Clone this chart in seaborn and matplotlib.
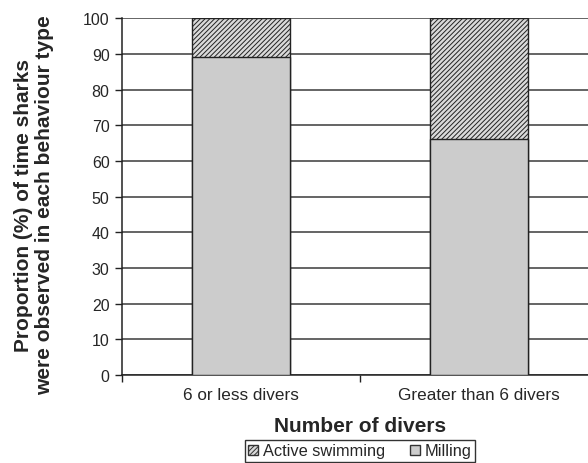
import matplotlib
matplotlib.use("Agg")
import matplotlib.pyplot as plt
import seaborn as sns
import pandas as pd
from matplotlib.patches import Patch

categories = ["6 or less divers", "Greater than 6 divers"]
milling = [89, 66]
active_swimming = [11, 34]
y_ticks = [0, 10, 20, 30, 40, 50, 60, 70, 80, 90, 100]

sns.set_theme(style="white")
plt.rcParams['font.family'] = ['Liberation Sans', 'DejaVu Sans']
plt.rcParams['hatch.color'] = '#858585'
plt.rcParams['hatch.linewidth'] = 0.7

df = pd.DataFrame({
    "cat": categories,
    "milling": milling,
    "total": [m + a for m, a in zip(milling, active_swimming)],
})

fig = plt.figure(figsize=(5.88, 4.64), dpi=100)
ax = fig.add_axes([0.2075, 0.1897, 0.810, 0.769])

for y in y_ticks:
    ax.axhline(y, color='#3a3a3a', lw=1.1, zorder=0)

sns.barplot(data=df, x="cat", y="total", color="#dadada", width=0.41,
            edgecolor="#222222", linewidth=1.0, hatch="///////", ax=ax, zorder=2)
sns.barplot(data=df, x="cat", y="milling", color="#cccccc", width=0.41,
            edgecolor="#222222", linewidth=1.0, ax=ax, zorder=3)
for p in ax.patches:
    p.set_facecolor(p.get_facecolor()[:3] + (1,))

ax.set_xlim(-0.5, 1.5)
ax.set_ylim(0, 100)
ax.set_yticks(y_ticks)
ax.tick_params(axis='y', labelsize=11.5, length=5, width=1, color='#222222', direction='out', left=True, pad=4)
ax.set_xticks([-0.5, 0.5, 1.5], minor=False)
ax.set_xticklabels([])
ax.set_xticks([0, 1], minor=True)
ax.set_xticklabels(categories, minor=True)
ax.tick_params(axis='x', which='major', length=5, width=1, color='#222222', direction='out', bottom=True)
ax.tick_params(axis='x', which='minor', length=0, labelsize=12.3, pad=9)

for s in ['top', 'right']:
    ax.spines[s].set_visible(False)
for s in ['left', 'bottom']:
    ax.spines[s].set_color('#222222')
    ax.spines[s].set_linewidth(1.1)

ax.set_xlabel("Number of divers", fontsize=15, fontweight='bold', va='center')
ax.xaxis.set_label_coords(0.5, -0.1429)
ax.set_ylabel("Proportion (%) of time sharks\nwere observed in each behaviour type",
              fontsize=15, fontweight='bold', linespacing=1.15, va='center')
ax.yaxis.set_label_coords(-0.1848, 0.479)

handles = [Patch(facecolor='#dadada', edgecolor='#333333', hatch='///////', label='Active swimming'),
           Patch(facecolor='#cccccc', edgecolor='#333333', label='Milling')]
leg = fig.legend(handles=handles, loc='center', bbox_to_anchor=(360/588, 1 - 452/464), ncol=2,
                 fontsize=11.8, frameon=True, fancybox=False, edgecolor='black',
                 handlelength=0.6, handleheight=0.6, handletextpad=0.3, columnspacing=1.5,
                 borderpad=0.2, borderaxespad=0)
leg.get_frame().set_linewidth(1.0)

fig.savefig("out.png", dpi=100)
